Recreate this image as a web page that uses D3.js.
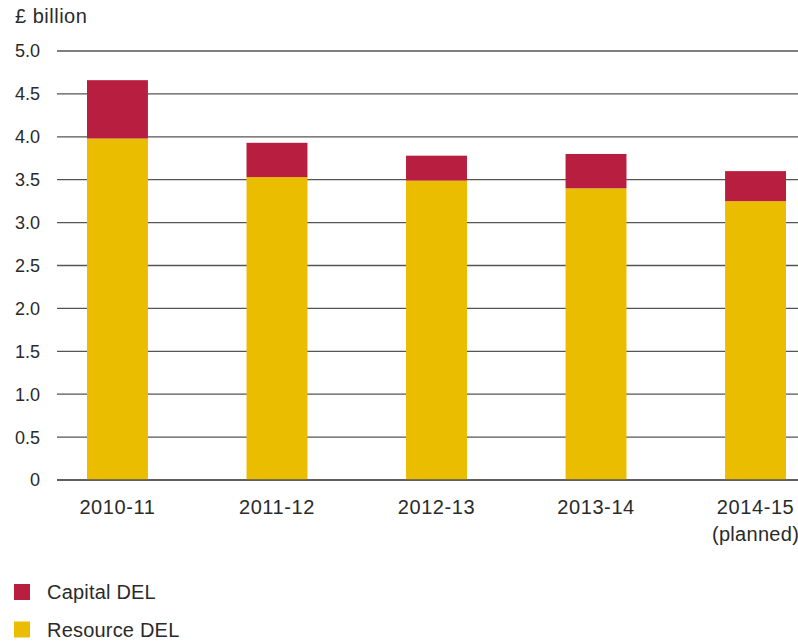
<!DOCTYPE html>
<html>
<head>
<meta charset="utf-8">
<script src="https://cdn.jsdelivr.net/npm/d3@7"></script>
<style>
  html, body { margin: 0; padding: 0; background: #fff; }
  svg text { font-family: "Liberation Sans", Arial, sans-serif; fill: #2a2a2a; }
</style>
</head>
<body>
<svg id="chart" width="798" height="641"></svg>
<script>
// Departmental expenditure limits, £ billion
const years = ["2010-11", "2011-12", "2012-13", "2013-14", "2014-15"];
const yearNotes = ["", "", "", "", "(planned)"];
const resourceDEL = [3.98, 3.53, 3.49, 3.40, 3.25];
const capitalDEL = [0.68, 0.40, 0.29, 0.40, 0.35];
const yTicks = [0, 0.5, 1.0, 1.5, 2.0, 2.5, 3.0, 3.5, 4.0, 4.5, 5.0];
const seriesNames = ["Capital DEL", "Resource DEL"];
const seriesColors = { "Capital DEL": "#b81e3f", "Resource DEL": "#ebbd00" };

const rows = years.map((yr, i) => ({ year: yr, "Resource DEL": resourceDEL[i], "Capital DEL": capitalDEL[i] }));
const stacked = d3.stack().keys(["Resource DEL", "Capital DEL"])(rows);

const svg = d3.select("#chart");
const plotLeft = 57, plotRight = 798, plotTop = 51, plotBottom = 480;

const x = d3.scaleBand().domain(years).range([plotLeft, 816])
  .paddingInner(0.618).paddingOuter(0.188);
const y = d3.scaleLinear().domain([0, 5]).range([plotBottom, plotTop]);

// gridlines
svg.append("g").selectAll("line").data(yTicks).join("line")
  .attr("x1", plotLeft).attr("x2", plotRight)
  .attr("y1", d => y(d)).attr("y2", d => y(d))
  .attr("stroke", "#555").attr("stroke-width", 1.3);

// y tick labels
svg.append("g").selectAll("text").data(yTicks).join("text")
  .attr("x", 40).attr("y", d => y(d)).attr("dy", "0.36em")
  .attr("text-anchor", "end").attr("font-size", 18)
  .text(d => d === 0 ? "0" : d.toFixed(1));

svg.append("text").attr("x", 15).attr("y", 23).attr("font-size", 20)
  .attr("letter-spacing", 0.5).text("£ billion");

// stacked bars
svg.append("g").selectAll("g").data(stacked).join("g")
  .attr("fill", d => seriesColors[d.key])
  .selectAll("rect").data(d => d).join("rect")
  .attr("x", d => x(d.data.year))
  .attr("width", x.bandwidth())
  .attr("y", d => y(d[1]))
  .attr("height", d => y(d[0]) - y(d[1]));

// baseline redrawn over the bars
svg.append("line").attr("x1", plotLeft).attr("x2", plotRight)
  .attr("y1", y(0)).attr("y2", y(0)).attr("stroke", "#555").attr("stroke-width", 1.3);

// x labels
const xl = svg.append("g").selectAll("g").data(years).join("g")
  .attr("transform", d => `translate(${x(d) + x.bandwidth() / 2},0)`);
xl.append("text").attr("y", 514).attr("text-anchor", "middle").attr("font-size", 20)
  .attr("letter-spacing", 0.6).text(d => d);
xl.append("text").attr("y", 541).attr("text-anchor", "middle").attr("font-size", 20)
  .attr("letter-spacing", 0.3).text((d, i) => yearNotes[i]);

// legend
const lg = svg.append("g").selectAll("g").data(seriesNames).join("g")
  .attr("transform", (d, i) => `translate(14,${584 + i * 37.5})`);
lg.append("rect").attr("width", 16).attr("height", 16).attr("fill", d => seriesColors[d]);
lg.append("text").attr("x", 33).attr("y", 15).attr("font-size", 20)
  .attr("letter-spacing", 0.2).text(d => d);
</script>
</body>
</html>
